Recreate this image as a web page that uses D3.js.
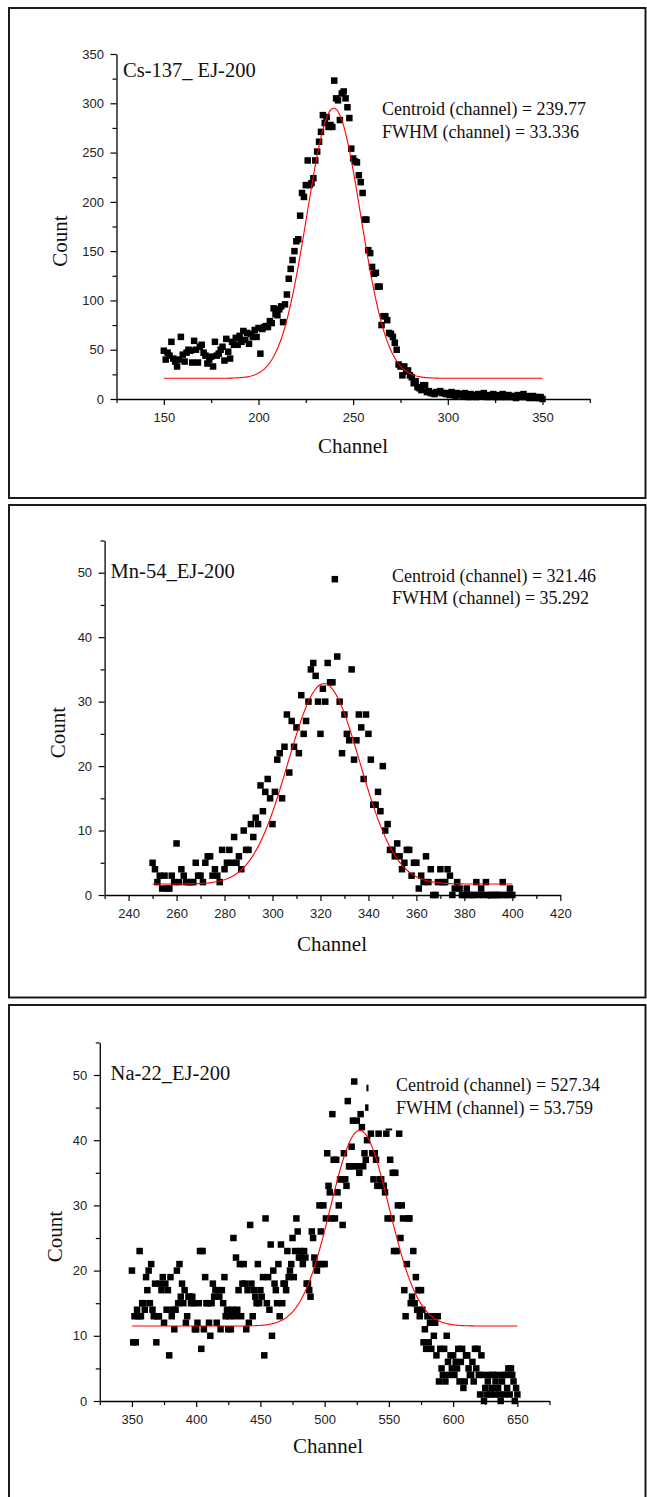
<!DOCTYPE html>
<html>
<head>
<meta charset="utf-8">
<script src="https://cdn.jsdelivr.net/npm/d3@7"></script>
<style>
  html, body { margin: 0; padding: 0; background: #fff; }
  svg { display: block; }
  .tick text { font-family: "Liberation Sans", Arial, sans-serif; font-size: 13px; fill: #222; }
  .tick line { stroke: #000; stroke-width: 1.2; }
  .serif { font-family: "Liberation Serif", "Times New Roman", serif; fill: #111; }
</style>
</head>
<body>
<svg id="chart" width="647" height="1497"></svg>
<script>
// ---- Cs-137 / EJ-200: counts per channel, channels 150..350 ----
const csStart = 150;
const csCounts = [
  49,40,47,44,58,41,38,33,40,63,
  45,38,47,50,49,37,59,50,37,53,
  55,47,44,36,40,43,33,58,44,46,
  50,53,39,61,48,41,58,55,62,55,
  64,58,69,60,67,56,66,63,70,63,
  72,46,71,73,74,73,79,77,92,86,
  85,91,94,78,96,106,122,132,141,150,
  160,162,186,209,205,217,242,217,219,224,
  242,251,261,271,288,280,286,276,278,276,
  323,305,303,283,310,312,305,296,285,254,
  244,241,240,227,220,209,182,182,151,148,
  134,127,128,114,114,75,84,84,80,67,
  66,63,57,50,35,33,24,33,28,29,
  24,22,16,18,12,11,9,14,14,7,
  8,6,6,5,7,7,8,6,6,5,
  6,4,7,5,3,6,4,5,3,6,
  4,2,5,3,4,2,5,3,4,6,
  3,2,4,3,5,2,3,4,2,5,
  3,2,4,3,2,3,1,4,2,3,
  5,2,3,1,2,3,1,2,1,2,
  0
];
// Gaussian fit: [baseline, height, centroid, FWHM], drawn over [from, to]
const csFit = [21, 274, 239.77, 33.336];
const csFitRange = [150, 350];
const csXTicks = [150, 200, 250, 300, 350];
const csXMinor = [125, 175, 225, 275, 325, 375];
const csYTicks = [0, 50, 100, 150, 200, 250, 300, 350];
const csYMinor = [25, 75, 125, 175, 225, 275, 325];

// ---- Mn-54 / EJ-200: counts per channel, channels 250..400 ----
const mnStart = 250;
const mnCounts = [
  5,4,2,3,1,3,1,1,3,2,
  8,2,4,3,2,2,2,2,5,3,
  3,2,5,6,6,3,4,3,2,7,
  4,5,7,5,9,5,6,4,10,7,
  7,11,9,12,11,17,13,16,18,15,
  11,16,21,22,15,23,28,19,27,23,
  26,22,31,25,27,30,35,36,34,30,
  25,32,30,36,33,33,49,37,30,22,
  28,25,24,35,21,24,28,26,18,28,
  25,21,14,14,16,13,20,10,11,7,
  7,6,8,6,4,5,7,7,3,5,
  5,1,3,2,6,2,4,0,0,2,
  4,2,2,4,3,0,1,2,1,0,
  0,1,0,0,0,2,0,1,0,2,
  0,0,0,0,0,0,2,0,0,1,
  0
];
const mnFit = [1.7, 31.1, 321.46, 35.292];
const mnFitRange = [250, 400];
const mnXTicks = [240, 260, 280, 300, 320, 340, 360, 380, 400, 420];
const mnXMinor = [230, 250, 270, 290, 310, 330, 350, 370, 390, 410];
const mnYTicks = [0, 10, 20, 30, 40, 50];
const mnYMinor = [5, 15, 25, 35, 45, 55];

// ---- Na-22 / EJ-200: counts per channel, channels 350..650 ----
const naStart = 350;
const naCounts = [
  20,9,13,9,14,13,23,13,15,15,
  14,19,17,20,15,21,14,13,18,9,
  13,13,18,17,19,12,18,14,17,7,
  19,13,14,11,14,20,15,21,16,18,
  15,17,12,13,16,16,15,16,15,11,
  11,12,15,23,8,23,11,19,15,15,
  12,10,15,18,16,17,12,17,16,11,
  17,15,19,13,14,11,13,11,14,25,
  13,22,14,17,21,13,18,21,18,11,
  17,12,27,18,13,17,16,15,21,15,
  17,16,19,7,28,15,19,14,24,10,
  20,18,17,15,21,13,24,15,18,18,
  17,23,19,20,21,25,19,23,28,26,
  22,23,22,21,23,22,18,18,17,16,
  26,25,22,21,20,21,30,26,21,30,
  21,28,38,33,32,28,44,37,28,37,
  32,30,34,34,27,38,34,33,46,36,
  36,39,43,49,36,43,36,35,44,42,
  36,38,37,40,45,48,41,38,34,38,
  37,33,41,34,34,33,33,32,41,28,
  42,37,28,35,23,35,23,30,41,25,
  30,28,17,13,21,28,28,15,16,23,
  15,19,14,17,13,17,14,9,11,8,
  13,9,12,8,13,10,12,7,13,3,
  8,5,4,8,3,10,6,4,7,5,
  7,4,6,5,8,3,6,8,2,3,
  7,7,5,4,4,6,3,8,5,8,
  4,1,7,4,0,2,1,3,4,1,
  2,4,1,3,4,2,1,0,3,4,
  1,4,2,5,1,5,4,3,0,2,
  1
];
const naFit = [11.5, 30.0, 527.34, 53.759];
const naFitRange = [350, 650];
const naXTicks = [350, 400, 450, 500, 550, 600, 650];
const naXMinor = [325, 375, 425, 475, 525, 575, 625, 675];
const naYTicks = [0, 10, 20, 30, 40, 50];
const naYMinor = [5, 15, 25, 35, 45, 55];

// ---- layout of the three stacked panels ----
const panels = [
  {
    frame: [9, 8, 636.5, 490],
    title: "Cs-137_ EJ-200", titlePos: [123, 77.3],
    start: csStart, counts: csCounts, fit: csFit, fitRange: csFitRange,
    xDomain: [125, 375], xRange: [116.5, 589.8],
    yDomain: [0, 350], yRange: [399, 54],
    xTicks: csXTicks, xMinor: csXMinor, yTicks: csYTicks, yMinor: csYMinor,
    ann: [382, 115, 137.5], annBox: null,
    countPos: [67, 241], channelPos: [353, 452.5]
  },
  {
    frame: [9, 505, 636.5, 492.5],
    title: "Mn-54_EJ-200", titlePos: [110.6, 578],
    start: mnStart, counts: mnCounts, fit: mnFit, fitRange: mnFitRange,
    xDomain: [230, 420], xRange: [104.6, 560.3],
    yDomain: [0, 55], yRange: [895, 540.5],
    xTicks: mnXTicks, xMinor: mnXMinor, yTicks: mnYTicks, yMinor: mnYMinor,
    ann: [392, 581.7, 604.3], annBox: null,
    countPos: [65, 732.5], channelPos: [332, 950.7]
  },
  {
    frame: [9, 1005, 636.5, 520],
    title: "Na-22_EJ-200", titlePos: [110.6, 1080],
    start: naStart, counts: naCounts, fit: naFit, fitRange: naFitRange,
    xDomain: [325, 675], xRange: [99.8, 549.5],
    yDomain: [0, 55], yRange: [1401, 1042.4],
    xTicks: naXTicks, xMinor: naXMinor, yTicks: naYTicks, yMinor: naYMinor,
    ann: [396, 1090.7, 1114], annBox: [368.5, 1068, 236, 60.5],
    countPos: [62, 1236.7], channelPos: [328, 1453]
  }
];

const svg = d3.select("#chart");
svg.append("rect").attr("width", 647).attr("height", 1497).attr("fill", "#fff");

function gauss(p, x) {
  const [y0, A, xc, w] = p;
  return y0 + A * Math.exp(-4 * Math.LN2 * (x - xc) * (x - xc) / (w * w));
}

panels.forEach(P => {
  const g = svg.append("g");

  // panel frame
  g.append("rect")
    .attr("x", P.frame[0]).attr("y", P.frame[1])
    .attr("width", P.frame[2]).attr("height", P.frame[3])
    .attr("fill", "none").attr("stroke", "#111").attr("stroke-width", 1.9);

  const x = d3.scaleLinear().domain(P.xDomain).range(P.xRange);
  const y = d3.scaleLinear().domain(P.yDomain).range(P.yRange);
  const y0px = P.yRange[0];
  const x0px = P.xRange[0];

  // bottom axis: major ticks with labels, minor ticks without
  const xAxis = g.append("g").attr("transform", `translate(0,${y0px})`)
    .call(d3.axisBottom(x).tickValues(P.xTicks).tickSize(6).tickSizeOuter(0).tickPadding(7.5));
  xAxis.select(".domain").attr("stroke", "#000").attr("stroke-width", 1.3);
  g.append("g").attr("transform", `translate(0,${y0px})`)
    .call(d3.axisBottom(x).tickValues(P.xMinor).tickSize(4).tickFormat(""))
    .call(s => s.select(".domain").remove());

  // left axis
  const yAxis = g.append("g").attr("transform", `translate(${x0px},0)`)
    .call(d3.axisLeft(y).tickValues(P.yTicks).tickSize(6).tickSizeOuter(0).tickPadding(6.5));
  yAxis.select(".domain").attr("stroke", "#000").attr("stroke-width", 1.3);
  g.append("g").attr("transform", `translate(${x0px},0)`)
    .call(d3.axisLeft(y).tickValues(P.yMinor).tickSize(4).tickFormat(""))
    .call(s => s.select(".domain").remove());

  // measured counts
  const pts = P.counts.map((c, i) => ({ ch: P.start + i, c }));
  const sq = 6.5;
  g.append("g").selectAll("rect").data(pts).join("rect")
    .attr("x", d => x(d.ch) - sq / 2)
    .attr("y", d => y(d.c) - sq / 2)
    .attr("width", sq).attr("height", sq)
    .attr("fill", "#000");

  // Gaussian fit curve
  const fitPts = d3.range(P.fitRange[0], P.fitRange[1] + 0.01, 0.5);
  g.append("path")
    .datum(fitPts)
    .attr("fill", "none").attr("stroke", "#f00").attr("stroke-width", 1.1)
    .attr("d", d3.line().x(v => x(v)).y(v => y(gauss(P.fit, v))));

  // annotation text box
  if (P.annBox) {
    g.append("rect")
      .attr("x", P.annBox[0]).attr("y", P.annBox[1])
      .attr("width", P.annBox[2]).attr("height", P.annBox[3])
      .attr("fill", "#fff");
  }
  g.append("text").attr("class", "serif")
    .attr("x", P.ann[0]).attr("y", P.ann[1]).attr("font-size", 18)
    .text(`Centroid (channel) = ${P.fit[2]}`);
  g.append("text").attr("class", "serif")
    .attr("x", P.ann[0]).attr("y", P.ann[2]).attr("font-size", 18)
    .text(`FWHM (channel) = ${P.fit[3]}`);

  // title
  g.append("text").attr("class", "serif")
    .attr("x", P.titlePos[0]).attr("y", P.titlePos[1]).attr("font-size", 20.5)
    .text(P.title);

  // axis titles
  g.append("text").attr("class", "serif")
    .attr("transform", `translate(${P.countPos[0]},${P.countPos[1]}) rotate(-90)`)
    .attr("text-anchor", "middle").attr("font-size", 21)
    .text("Count");
  g.append("text").attr("class", "serif")
    .attr("x", P.channelPos[0]).attr("y", P.channelPos[1])
    .attr("text-anchor", "middle").attr("font-size", 21)
    .text("Channel");
});
</script>
</body>
</html>
